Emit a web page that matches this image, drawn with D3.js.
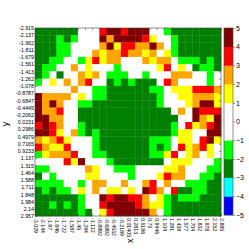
<!DOCTYPE html>
<html><head><meta charset="utf-8">
<script src="https://cdn.jsdelivr.net/npm/d3@7"></script>
<style>body{margin:0;background:#fff}svg{display:block;font-family:"DejaVu Sans",sans-serif}</style>
</head><body>
<svg id="c" width="249" height="249"></svg>
<script>
const xTickLabels = ["-3.029","-2.144","-1.97","-1.846","-1.722","-1.587","-1.45","-1.294","-1.112","-0.8992","-0.6992","-0.4532","-0.2189","0.01405","0.2813","0.5186","0.73","0.9446","1.104","1.291","1.439","1.577","1.704","1.832","1.978","2.152","2.885"];
const yTickLabels = ["-2.915","-2.137","-1.962","-1.811","-1.679","-1.561","-1.413","-1.262","-1.078","-0.8787","-0.6847","-0.4445","-0.2062","0.0231","0.2986","0.4979","0.7165","0.9233","1.137","1.315","1.464","1.588","1.711","1.848","1.984","2.14","2.957"];
const colorBounds = [-5,-4,-3,-2,-1,0,1,2,3,4,5];
const colorList = ["#0000ff","#00ffff","#008000","#00ff00","#ffffff","#ffffff","#ffff00","#ffa500","#ff0000","#800000"];
const values = [
[-2.5,-2.5,-2.5,-2.5,-2.5,-2.5,0,0,0,3.5,4.5,4.5,3.5,4.5,4.5,4.5,0,0,-1.5,-2.5,-2.5,-2.5,-2.5,-2.5,-2.5,-2.5],
[-2.5,-2.5,-2.5,-1.5,-2.5,-1.5,0,0,0,4.5,2.5,4.5,4.5,4.5,4.5,3.5,1.5,0,0,-1.5,-2.5,-2.5,-2.5,-2.5,-2.5,-2.5],
[-2.5,-2.5,-2.5,-1.5,-1.5,0,0,0,0,2.5,4.5,1.5,3.5,3.5,2.5,2.5,4.5,2.5,0,-1.5,-2.5,-2.5,-2.5,-2.5,-2.5,-2.5],
[-2.5,-2.5,-2.5,-1.5,-1.5,0,0,0,2.5,1.5,2.5,2.5,3.5,2.5,2.5,1.5,2.5,0,1.5,-1.5,-2.5,-2.5,-2.5,-2.5,-2.5,-2.5],
[-2.5,-2.5,-1.5,-1.5,0,0,-1.5,1.5,3.5,1.5,2.5,2.5,0,0,0,2.5,1.5,2.5,2.5,0,-1.5,-1.5,-1.5,-2.5,-1.5,-2.5],
[-2.5,-1.5,-1.5,0,0,2.5,0,1.5,0,0,0,-1.5,0,0,0,0,0,1.5,3.5,0,1.5,0,-2.5,-1.5,-1.5,-2.5],
[-2.5,-1.5,0,-2.5,0,0,2.5,1.5,2.5,0,-1.5,-1.5,-1.5,0,0,-1.5,0,0,0,2.5,2.5,2.5,0,0,-1.5,0],
[-1.5,0,1.5,0,2.5,0,2.5,3.5,0,0,-2.5,-1.5,-2.5,-1.5,-2.5,-2.5,-2.5,0,3.5,2.5,0,0,0,0,-1.5,0],
[0,0,0,0,0,2.5,0,0,-1.5,-1.5,-2.5,-2.5,-2.5,-2.5,-2.5,-2.5,-1.5,-1.5,0,1.5,1.5,1.5,3.5,3.5,3.5,2.5],
[4.5,2.5,2.5,2.5,2.5,0,1.5,0,-1.5,-1.5,-2.5,-2.5,-2.5,-2.5,-2.5,-2.5,-2.5,-1.5,0,0,1.5,1.5,2.5,2.5,2.5,1.5],
[4.5,2.5,4.5,2.5,0,0,-1.5,-1.5,-2.5,-2.5,-2.5,-2.5,-2.5,-2.5,-2.5,-2.5,-2.5,-1.5,0,0,0,1.5,2.5,4.5,4.5,1.5],
[4.5,2.5,2.5,3.5,0,0,-2.5,-2.5,-2.5,-2.5,-2.5,-2.5,-2.5,-2.5,-2.5,-2.5,-2.5,-2.5,-2.5,0,2.5,0,4.5,3.5,3.5,3.5],
[4.5,4.5,2.5,2.5,0,0,-2.5,-2.5,-2.5,-2.5,-2.5,-2.5,-2.5,-2.5,-2.5,-2.5,-2.5,-2.5,-2.5,-2.5,0,0,4.5,2.5,1.5,4.5],
[3.5,4.5,3.5,2.5,0,0,-1.5,-2.5,-2.5,-2.5,-2.5,-2.5,-2.5,-2.5,-2.5,-2.5,-2.5,-2.5,-2.5,-1.5,0,3.5,1.5,2.5,3.5,4.5],
[4.5,4.5,3.5,1.5,0,2.5,-1.5,-2.5,-1.5,-2.5,-2.5,-2.5,-2.5,-2.5,-2.5,-2.5,-2.5,-2.5,-2.5,-1.5,1.5,1.5,0,0,4.5,4.5],
[2.5,1.5,2.5,3.5,1.5,0,0,0,-1.5,-2.5,-2.5,-2.5,-2.5,-2.5,-2.5,-2.5,-1.5,-1.5,-1.5,0,1.5,1.5,0,3.5,4.5,1.5],
[3.5,2.5,1.5,1.5,3.5,0,0,0,-1.5,-2.5,-2.5,-2.5,-2.5,-2.5,-2.5,-2.5,-1.5,-2.5,-1.5,0,3.5,1.5,2.5,3.5,1.5,0],
[-1.5,1.5,2.5,2.5,2.5,3.5,0,0,-1.5,-1.5,-2.5,-2.5,-2.5,-2.5,-2.5,-2.5,-1.5,-1.5,1.5,3.5,0,1.5,2.5,0,1.5,0],
[0,0,0,0,3.5,1.5,4.5,0,0,0,-1.5,-2.5,-2.5,-2.5,-2.5,-2.5,-2.5,-2.5,0,1.5,1.5,1.5,0,0,0,-1.5],
[-1.5,-1.5,0,0,0,0,0,2.5,1.5,0,0,-1.5,-1.5,-1.5,0,0,0,0,1.5,1.5,2.5,0,0,0,-1.5,-1.5],
[-2.5,0,-1.5,0,0,0,0,1.5,1.5,0,0,0,0,-1.5,0,0,0,1.5,3.5,2.5,2.5,0,0,-1.5,-1.5,-2.5],
[-1.5,-1.5,-1.5,-1.5,0,0,-1.5,0,2.5,2.5,0,0,2.5,0,0,2.5,3.5,0,2.5,0,0,-1.5,-1.5,-1.5,-2.5,-2.5],
[-2.5,-1.5,-2.5,-1.5,-1.5,0,1.5,0,2.5,0,1.5,1.5,0,1.5,0,4.5,3.5,2.5,0,3.5,-2.5,-2.5,-1.5,-1.5,-2.5,-2.5],
[-2.5,-2.5,-2.5,-2.5,-2.5,-2.5,-1.5,0,0,4.5,3.5,4.5,4.5,3.5,3.5,2.5,0,1.5,-1.5,-2.5,-1.5,-1.5,-1.5,-2.5,-2.5,-2.5],
[-2.5,-2.5,-1.5,-2.5,-1.5,-2.5,-1.5,0,0,3.5,4.5,4.5,4.5,4.5,3.5,2.5,1.5,1.5,-1.5,-2.5,-2.5,-2.5,-2.5,-2.5,-2.5,-2.5],
[-2.5,-2.5,-2.5,-2.5,-2.5,-2.5,-1.5,-2.5,0,1.5,3.5,4.5,4.5,4.5,4.5,4.5,2.5,0,-1.5,-2.5,-2.5,-2.5,-2.5,-2.5,-2.5,-2.5]
];
const cbTicks = [5,4,3,2,1,0,-1,-2,-3,-4,-5];

const svg = d3.select("#c");
const L = 35, R = 221, T = 28, B = 216;
const n = xTickLabels.length - 1, m = yTickLabels.length - 1;
const xBand = d3.scaleBand().domain(d3.range(n)).range([L, R]);
const yBand = d3.scaleBand().domain(d3.range(m)).range([T, B]);
const xEdge = d3.scaleLinear().domain([0, n]).range([L, R]);
const yEdge = d3.scaleLinear().domain([0, m]).range([T, B]);
const color = d3.scaleThreshold().domain(colorBounds.slice(1, -1)).range(colorList);

const cells = [];
values.forEach((row, j) => row.forEach((v, i) => cells.push({i, j, v})));
svg.append("g").selectAll("rect").data(cells).join("rect")
  .attr("x", d => xBand(d.i)).attr("y", d => yBand(d.j))
  .attr("width", xBand.bandwidth() + 0.3).attr("height", yBand.bandwidth() + 0.3)
  .attr("fill", d => color(d.v));

// frame
svg.append("rect").attr("x", L).attr("y", T).attr("width", R - L).attr("height", B - T)
  .attr("fill", "none").attr("stroke", "#444").attr("stroke-width", 0.6);

// axes
const fs = 5.3;
const xAx = svg.append("g").attr("transform", `translate(0,${B})`)
  .call(d3.axisBottom(xEdge).tickValues(d3.range(n + 1)).tickFormat(i => xTickLabels[i]).tickSize(-2).tickPadding(1));
xAx.select(".domain").remove();
xAx.selectAll("line").attr("stroke", "#333").attr("stroke-width", 0.5);
xAx.selectAll("text").attr("font-size", fs).attr("fill", "#000")
  .attr("transform", "rotate(90)").attr("text-anchor", "start").attr("x", 2).attr("y", 0).attr("dy", "0.32em");

const xTop = svg.append("g").attr("transform", `translate(0,${T})`)
  .call(d3.axisTop(xEdge).tickValues(d3.range(n + 1)).tickFormat("").tickSize(-2));
xTop.select(".domain").remove();
xTop.selectAll("line").attr("stroke", "#333").attr("stroke-width", 0.5);

const yAx = svg.append("g").attr("transform", `translate(${L},0)`)
  .call(d3.axisLeft(yEdge).tickValues(d3.range(m + 1)).tickFormat(i => yTickLabels[i]).tickSize(-2).tickPadding(1));
yAx.select(".domain").remove();
yAx.selectAll("line").attr("stroke", "#333").attr("stroke-width", 0.5);
yAx.selectAll("text").attr("font-size", fs).attr("fill", "#000").attr("x", -1);

const yRight = svg.append("g").attr("transform", `translate(${R},0)`)
  .call(d3.axisRight(yEdge).tickValues(d3.range(m + 1)).tickFormat("").tickSize(-2));
yRight.select(".domain").remove();
yRight.selectAll("line").attr("stroke", "#333").attr("stroke-width", 0.5);

// axis labels
svg.append("text").attr("transform", `translate(8,124) rotate(-90)`).attr("text-anchor", "middle")
  .attr("font-size", 9).text("y");
svg.append("text").attr("transform", `translate(130,241) rotate(-90)`).attr("text-anchor", "middle")
  .attr("dy", "0.35em").attr("font-size", 8).text("x");

// colorbar
const cbX = 224, cbW = 9, cbT = 28, cbB = 215;
const cy = d3.scaleLinear().domain([-5, 5]).range([cbB, cbT]);
const segs = d3.range(colorBounds.length - 1).map(k => ({lo: colorBounds[k], hi: colorBounds[k + 1]}));
svg.append("g").selectAll("rect").data(segs).join("rect")
  .attr("x", cbX).attr("y", d => cy(d.hi)).attr("width", cbW).attr("height", d => cy(d.lo) - cy(d.hi) + 0.3)
  .attr("fill", d => color((d.lo + d.hi) / 2));
svg.append("rect").attr("x", cbX).attr("y", cbT).attr("width", cbW).attr("height", cbB - cbT)
  .attr("fill", "none").attr("stroke", "#444").attr("stroke-width", 0.6);
const cbAx = svg.append("g").attr("transform", `translate(${cbX + cbW},0)`)
  .call(d3.axisRight(cy).tickValues(cbTicks).tickFormat(d => d < 0 ? "\u2212" + Math.abs(d) : String(d)).tickSize(2).tickPadding(1));
cbAx.select(".domain").remove();
cbAx.selectAll("line").attr("stroke", "#333").attr("stroke-width", 0.5);
cbAx.selectAll("text").attr("font-size", 7).attr("fill", "#000");
</script>
</body></html>
